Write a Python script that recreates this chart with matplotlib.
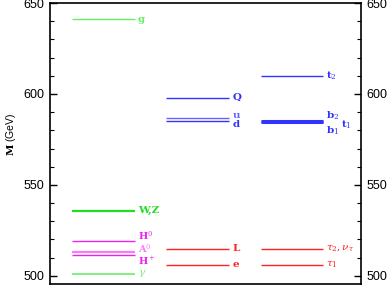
import numpy as np
import matplotlib
matplotlib.use("Agg")
import matplotlib.pyplot as plt
from matplotlib.ticker import MultipleLocator

plt.rcParams['mathtext.fontset'] = 'dejavuserif'
plt.rcParams['font.family'] = 'Liberation Sans'

# column 1: gauge bosons and Higgs
col1_labels = ["g", "W,Z", r"H$^0$", r"A$^0$", r"H$^+$", r"$\gamma$"]
col1_mass = [641, 535.7, 519, 513, 511.5, 501]
col1_colors = ["#66ee66", "#22dd22", "#ee22ee", "#ff77ff", "#ee22ee", "#77ee77"]
col1_widths = [1.0, 1.6, 1.0, 1.6, 1.0, 1.3]

# column 2: first generation squarks / sleptons
col2_labels = ["Q", "u", "d", "L", "e"]
col2_mass = [598, 586.6, 585, 515, 506]
col2_colors = ["#3333ff", "#6666ff", "#3333ff", "#ff2222", "#ff2222"]

# column 3: third generation
col3_labels = [r"t$_2$", "", "", r"$\tau_2,\nu_\tau$", r"$\tau_1$"]
col3_mass = [610, 585, 584.3, 515, 506]
col3_colors = ["#3333ff", "#3333ff", "#3333ff", "#ff2222", "#ff2222"]

fig = plt.figure(figsize=(3.91, 2.86), dpi=100)
ax = fig.add_axes([50/391, 2/286, 311/391, 281/286])
ax.set_xlim(0, 10)
ax.set_ylim(495.5, 650)

lab_kw = dict(fontsize=7.5, fontweight='bold', family='DejaVu Serif', va='center', ha='left')

def draw_col(x0, x1, masses, labels, colors, widths=None, dy=None, fs=None):
    for i in range(len(masses)):
        lw = widths[i] if widths else 1.0
        ax.hlines(masses[i], x0, x1, color=colors[i], lw=lw)
        if labels[i]:
            off = dy[i] if dy else 0
            kw = dict(lab_kw)
            if fs:
                kw['fontsize'] = fs[i]
            ax.text(x1 + 0.1, masses[i] + off, labels[i], color=colors[i], **kw)

draw_col(0.71, 2.72, col1_mass, col1_labels, col1_colors, col1_widths,
         dy=[0, 0, 3.0, 2.0, -3.4, 0], fs=[7.5, 7.5, 7, 7, 7, 7.5])
draw_col(3.74, 5.77, col2_mass, col2_labels, col2_colors,
         dy=[0, 1.6, -1.6, 0, 0])
draw_col(6.77, 8.78, col3_mass, col3_labels, col3_colors, [1, 2.2, 2.2, 1, 1])
ax.text(8.88, 588.0, r"b$_2$", color="#3333ff", **lab_kw)
ax.text(8.88, 580.0, r"b$_1$", color="#3333ff", **lab_kw)
ax.text(9.35, 582.8, r"t$_1$", color="#3333ff", **lab_kw)

ax.yaxis.set_major_locator(MultipleLocator(50))
ax.yaxis.set_minor_locator(MultipleLocator(10))
ax.set_xticks([])
ax.tick_params(axis='y', which='both', direction='in', left=True, right=True,
               labelleft=True, labelright=True, labelsize=9, pad=4)
ax.tick_params(axis='y', which='major', length=5, width=1)
ax.tick_params(axis='y', which='minor', length=3, width=0.8)
for s in ax.spines.values():
    s.set_linewidth(1.2)

fig.text(11/391, 0.53, r"$\mathbf{M}$ (GeV)", rotation=90, fontsize=7.5,
         va='center', ha='center')

fig.savefig("out.png", dpi=100)
